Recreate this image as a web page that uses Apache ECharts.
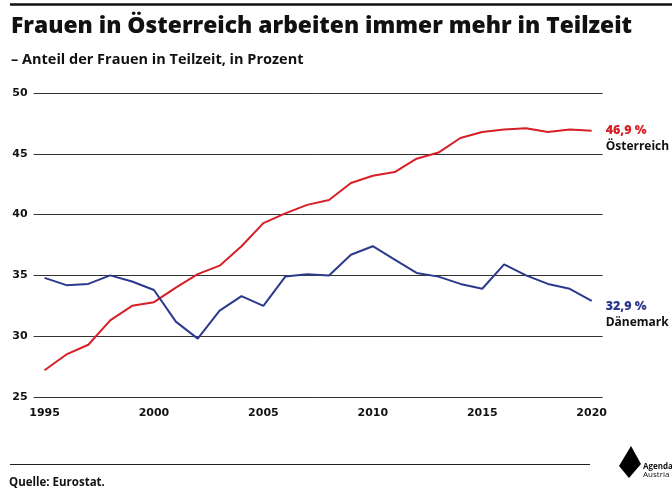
<!DOCTYPE html>
<html>
<head>
<meta charset="utf-8">
<script src="https://cdn.jsdelivr.net/npm/echarts@6/dist/echarts.min.js"></script>
<style>
html,body{margin:0;padding:0;background:#fff;}
#chart{width:672px;height:490px;}
</style>
</head>
<body>
<div id="chart"></div>
<script>
const years = [1995,1996,1997,1998,1999,2000,2001,2002,2003,2004,2005,2006,2007,2008,2009,2010,2011,2012,2013,2014,2015,2016,2017,2018,2019,2020];
const oesterreich = [27.2,28.5,29.3,31.3,32.5,32.8,34.0,35.1,35.8,37.4,39.3,40.1,40.8,41.2,42.6,43.2,43.5,44.6,45.1,46.3,46.8,47.0,47.1,46.8,47.0,46.9];
const daenemark = [34.8,34.2,34.3,35.0,34.5,33.8,31.2,29.8,32.1,33.3,32.5,34.9,35.1,35.0,36.7,37.4,36.3,35.2,34.9,34.3,33.9,35.9,35.0,34.3,33.9,32.9];
const xTicks = [1995,2000,2005,2010,2015,2020];
const yTicks = [25,30,35,40,45,50];
const seriesNames = ['Österreich','Dänemark'];
const endValues = ['46,9 %','32,9 %'];

const RED = '#d71f27';
const BLUE = '#2b3a8c';

const chart = echarts.init(document.getElementById('chart'), null, {renderer:'canvas'});
const pairs = (vals) => years.map((y,i)=>[y, vals[i]]);

chart.setOption({
  animation:false,
  backgroundColor:'#fff',
  title:[
    {text:'Frauen in Österreich arbeiten immer mehr in Teilzeit', left:6, top:10,
     textStyle:{fontFamily:'Open Sans', fontWeight:800, fontSize:22.8, color:'#111'}},
    {text:'– Anteil der Frauen in Teilzeit, in Prozent', left:6, top:47,
     textStyle:{fontFamily:'Open Sans', fontWeight:'bold', fontSize:14.5, color:'#111'}}
  ],
  grid:{left:33.6, right:69.4, top:93, bottom:93, containLabel:false},
  xAxis:{
    type:'value', min:1994.5, max:2020.5,
    axisLine:{show:false}, axisTick:{show:false}, splitLine:{show:false},
    axisLabel:{customValues:xTicks, margin:11, color:'#111', fontFamily:'DejaVu Sans', fontWeight:'bold', fontSize:11,
      formatter:(v)=>String(v)}
  },
  yAxis:{
    type:'value', min:25, max:50, interval:5,
    axisLine:{show:false}, axisTick:{show:false},
    splitLine:{show:true, lineStyle:{color:'#333', width:1}},
    axisLabel:{margin:6, color:'#111', fontFamily:'DejaVu Sans', fontWeight:'bold', fontSize:11}
  },
  series:[
    {name:seriesNames[0], type:'line', data:pairs(oesterreich), symbol:'none',
     lineStyle:{color:RED, width:2}, itemStyle:{color:RED},
     endLabel:{show:true, offset:[6,8], formatter:()=>'{a|'+endValues[0]+'}\n{b|'+seriesNames[0]+'}',
       rich:{a:{fontFamily:'Open Sans', fontWeight:800, fontSize:12.5, color:RED, lineHeight:16},
             b:{fontFamily:'Open Sans', fontWeight:'bold', fontSize:12, color:'#111', lineHeight:16}}}},
    {name:seriesNames[1], type:'line', data:pairs(daenemark), symbol:'none',
     lineStyle:{color:BLUE, width:2}, itemStyle:{color:BLUE},
     endLabel:{show:true, offset:[6,14], formatter:()=>'{a|'+endValues[1]+'}\n{b|'+seriesNames[1]+'}',
       rich:{a:{fontFamily:'Open Sans', fontWeight:800, fontSize:12.5, color:BLUE, lineHeight:16},
             b:{fontFamily:'Open Sans', fontWeight:'bold', fontSize:12, color:'#111', lineHeight:16}}}}
  ],
  graphic:[
    {type:'line', shape:{x1:10, y1:4.5, x2:672, y2:4.5}, style:{stroke:'#111', lineWidth:2.5}},
    {type:'line', shape:{x1:10, y1:464.5, x2:590, y2:464.5}, style:{stroke:'#222', lineWidth:1}},
    {type:'text', left:9, top:477, style:{text:'Quelle: Eurostat.', font:'bold 11.5px "Open Sans"', fill:'#111'}},
    {type:'polygon', shape:{points:[[631,446],[641,464],[629,478],[619,466]]}, style:{fill:'#000'}},
    {type:'text', left:643, top:463, style:{text:'Agenda', font:'bold 8px "Open Sans"', fill:'#111'}},
    {type:'text', left:643, top:471, style:{text:'Austria', font:'8px "Open Sans"', fill:'#111'}}
  ]
});
</script>
</body>
</html>
